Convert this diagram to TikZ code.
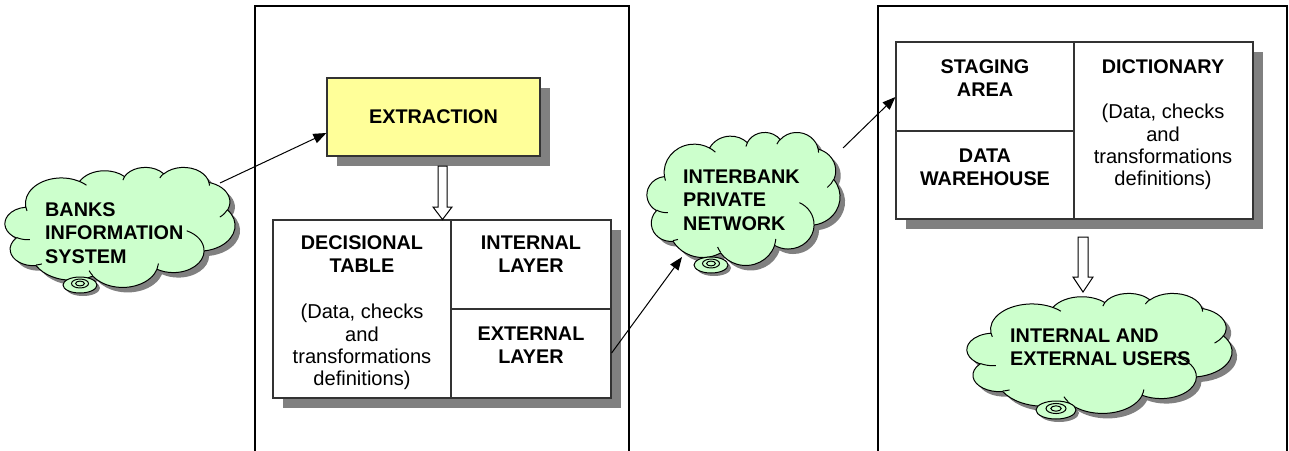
\documentclass[tikz,border=0pt]{standalone}
\usepackage{fontspec}
\setmainfont{Liberation Sans}
\usetikzlibrary{shadows,arrows.meta}
\definecolor{cloudgreen}{HTML}{CCFFCC}
\definecolor{extyellow}{HTML}{FFFF99}
\definecolor{shadowgray}{HTML}{808080}
\definecolor{boxline}{HTML}{333333}
\tikzset{
  panel/.style={line width=1.3pt, draw=black},
  tablebox/.style={draw=boxline, line width=1.2pt, fill=white,
    drop shadow={shadow xshift=10pt, shadow yshift=-10pt, opacity=1, fill=shadowgray}},
  divider/.style={draw=boxline, line width=1.2pt},
  cloudline/.style={draw=black, line width=1pt, fill=cloudgreen},
  cloudstroke/.style={draw=black, line width=1pt},
  bubble/.style={draw=black, line width=1pt, fill=cloudgreen},
  boldtxt/.style={font=\bfseries\fontsize{19.8}{23}\selectfont, align=center, inner sep=0pt},
  regtxt/.style={font=\fontsize{20.1}{22.3}\selectfont, align=center, inner sep=0pt},
  cloudtxt/.style={font=\bfseries\fontsize{19.8}{23.3}\selectfont, align=left, inner sep=0pt, anchor=west},
  arr/.style={line width=1pt, -{Triangle[length=13pt,width=10pt]}},
  hollow/.style={draw=black, line width=1pt, fill=white}
}
\newcommand\cloudmain{(0.09028,0.33264)
 arc[start angle=-187.75, end angle=-59.64, x radius=0.15632, y radius=0.21273]
 arc[start angle=-152.0, end angle=-45.5, x radius=0.12345, y radius=0.16822]
 arc[start angle=-153.46, end angle=-37.36, x radius=0.10104, y radius=0.13762]
 arc[start angle=-139.76, end angle=-10.19, x radius=0.11243, y radius=0.15266]
 arc[start angle=-74.80, end angle=23.25, x radius=0.12345, y radius=0.16836]
 arc[start angle=-37.53, end angle=81.86, x radius=0.15683, y radius=0.21343]
 arc[start angle=0.46, end angle=121.98, x radius=0.13391, y radius=0.18211]
 arc[start angle=16.89, end angle=146.14, x radius=0.15630, y radius=0.21331]
 arc[start angle=59.09, end angle=150.09, x radius=0.17870, y radius=0.24405]
 arc[start angle=83.29, end angle=223.04, x radius=0.10093, y radius=0.13741]
 arc[start angle=120.21, end angle=264.14, x radius=0.10058, y radius=0.13762]
 -- cycle}
\newcommand\cloudinner{
 (0.10863,0.60595) arc[start angle=85.55, end angle=120.36, x radius=0.10058, y radius=0.13762]
 (0.16037,0.80785) arc[start angle=68.17, end angle=83.29, x radius=0.10093, y radius=0.13741]
 (0.38144,0.90486) arc[start angle=146.14, end angle=158.47, x radius=0.15630, y radius=0.21331]
 (0.66729,0.80442) arc[start angle=4.74, end angle=16.89, x radius=0.15630, y radius=0.21331]
 (0.79002,0.53134) arc[start angle=-64.03, end angle=0.46, x radius=0.13391, y radius=0.18211]
 (0.96755,0.35542) arc[start angle=23.25, end angle=49.64, x radius=0.12345, y radius=0.16836]
 (0.88713,0.12560) arc[start angle=-10.19, end angle=0.82, x radius=0.11243, y radius=0.15266]
 (0.67310,0.09148) arc[start angle=-156.29, end angle=-139.76, x radius=0.11243, y radius=0.15266]
 (0.51252,0.10926) arc[start angle=-167.73, end angle=-153.46, x radius=0.10104, y radius=0.13762]
 (0.32407,0.12019) arc[start angle=-59.64, end angle=-45.72, x radius=0.15632, y radius=0.21273]
 (0.09553,0.36549) arc[start angle=163.19, end angle=172.26, x radius=0.15632, y radius=0.21273]
}
% #1,#2 top-left; #3 width; #4 height
\newcommand\drawcloud[4]{%
 \begin{scope}[shift={(#1+5,#2+5)}, x=#3pt, y=-#4pt]
   \fill[shadowgray] \cloudmain;
 \end{scope}
 \begin{scope}[shift={(#1,#2)}, x=#3pt, y=-#4pt]
   \filldraw[cloudline] \cloudmain;
   \draw[cloudstroke] \cloudinner;
 \end{scope}}
% bubble: center x, center y, rx, ry
\newcommand\drawbubble[4]{%
 \fill[shadowgray] (#1+3,#2+3) ellipse [x radius=#3pt, y radius=#4pt];
 \draw[bubble] (#1,#2) ellipse [x radius=#3pt, y radius=#4pt];
 \draw[black, line width=1pt] (#1,#2-1.5) ellipse [x radius=#3*0.5pt, y radius=#4*0.56pt];
 \draw[black, line width=1pt] (#1,#2-1.5) ellipse [x radius=#3*0.26pt, y radius=#4*0.3pt];}
\begin{document}
\begin{tikzpicture}[x=1pt,y=-1pt]
\useasboundingbox (0,0) rectangle (1289,450);
% panels
\draw[panel] (255,452) -- (255,6) -- (629,6) -- (629,452);
\draw[panel] (878,452) -- (878,6) -- (1287,6) -- (1287,452);

% extraction
\node[draw=boxline, line width=1.2pt, fill=extyellow, minimum width=213pt, minimum height=78pt,
  drop shadow={shadow xshift=10pt, shadow yshift=-10pt, opacity=1, fill=shadowgray},
  font=\bfseries\fontsize{19.8}{23}\selectfont] (ext) at (433.5,117) {EXTRACTION};

% decisional table
\node[tablebox, minimum width=338pt, minimum height=178pt] (dt) at (442,309) {};
\draw[divider] (451,220) -- (451,398);
\draw[divider] (451,309) -- (611,309);
\node[boldtxt] (dtt) at (362,254.5) {DECISIONAL\\TABLE};
\node[regtxt] (dtr) at (362,347) {(Data, checks\\and\\transformations\\definitions)};
\node[boldtxt] (il) at (531,254.5) {INTERNAL\\LAYER};
\node[boldtxt] (el) at (531,345) {EXTERNAL\\LAYER};

% hollow arrow 1
\draw[hollow] (438,166) -- (447,166) -- (447,207) -- (452,207) -- (442.5,219.5)
  -- (433,207) -- (438,207) -- cycle;

% right table
\node[tablebox, minimum width=357pt, minimum height=177pt] (rb) at (1074.5,130.5) {};
\draw[divider] (1074,42) -- (1074,219);
\draw[divider] (896,131) -- (1074,131);
\node[boldtxt] (sa) at (985,78.5) {STAGING\\AREA};
\node[boldtxt] (dw) at (985,167.5) {DATA\\WAREHOUSE};
\node[boldtxt] (dic) at (1163,67) {DICTIONARY};
\node[regtxt] (dicr) at (1163,147) {(Data, checks\\and\\transformations\\definitions)};

% hollow arrow 2
\draw[hollow] (1078,237) -- (1088,237) -- (1088,277) -- (1093,277) -- (1083,292)
  -- (1073,277) -- (1078,277) -- cycle;

% clouds
\drawcloud{5}{167}{230}{120}
\drawbubble{80}{285}{17}{8}
\node[cloudtxt] (bankst) at (45,233) {BANKS\\INFORMATION\\SYSTEM};

\drawcloud{647}{132}{193}{133}
\drawbubble{711}{265}{17}{8}
\node[cloudtxt] (intert) at (683,200) {INTERBANK\\PRIVATE\\NETWORK};

\drawcloud{967}{293}{265}{120}
\drawbubble{1056}{410}{20}{9}
\node[cloudtxt] (userst) at (1010,347) {INTERNAL AND\\EXTERNAL USERS};

% connectors
\coordinate (bs) at (220,183);
\coordinate (ie) at (682,257);
\coordinate (is) at (843,148);
\draw[arr] (bs) -- ([yshift=-16pt]ext.west);
\draw[arr] ([yshift=-44pt]dt.east) -- (ie);
\draw[arr] (is) -- ([yshift=33.5pt]rb.west);
\end{tikzpicture}
\end{document}
